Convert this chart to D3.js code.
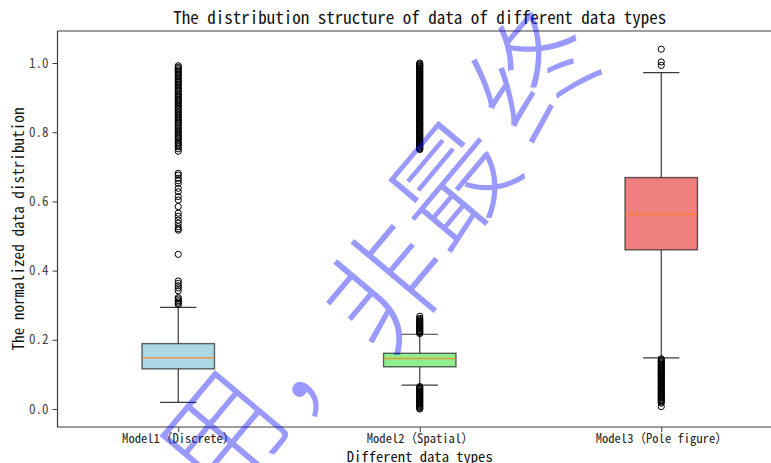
<!DOCTYPE html>
<html>
<head>
<meta charset="utf-8">
<script src="https://cdn.jsdelivr.net/npm/d3@7"></script>
<style>
  html, body { margin: 0; padding: 0; background: #fff; }
  svg { display: block; }
  text { font-family: "Noto Sans Mono CJK SC", "Noto Sans CJK SC", "DejaVu Sans Mono", monospace; }
</style>
</head>
<body>
<svg id="chart" width="771" height="463"></svg>
<script>
// ---- data -----------------------------------------------------------
const categories = ["Model1（Discrete）", "Model2（Spatial）", "Model3（Pole figure）"];
const q1          = [0.116, 0.122, 0.460];
const medians     = [0.148, 0.146, 0.563];
const q3          = [0.189, 0.161, 0.669];
const whiskerLow  = [0.019, 0.069, 0.148];
const whiskerHigh = [0.294, 0.216, 0.972];

const outliersModel1 = [
  0.302, 0.305, 0.309, 0.313, 0.318, 0.322, 0.342, 0.350, 0.356, 0.363, 0.370, 0.447,
  0.517, 0.521, 0.527, 0.537, 0.546, 0.557, 0.566, 0.585, 0.604, 0.614, 0.628, 0.638,
  0.652, 0.660, 0.667, 0.676, 0.681,
  0.745, 0.752, 0.758, 0.763, 0.768, 0.771, 0.776, 0.781, 0.785, 0.789, 0.794, 0.798,
  0.803, 0.807, 0.812, 0.816, 0.821, 0.826, 0.829, 0.834, 0.838, 0.843, 0.847, 0.851,
  0.856, 0.860, 0.865, 0.869, 0.873, 0.878, 0.882, 0.887, 0.891, 0.895, 0.899, 0.904,
  0.908, 0.912, 0.917, 0.921, 0.925, 0.930, 0.934, 0.939, 0.943, 0.947, 0.951, 0.955,
  0.960, 0.964, 0.968, 0.972, 0.976, 0.980, 0.984, 0.988, 0.992
];
const outliersModel2 = [
  0.000, 0.002, 0.005, 0.007, 0.010, 0.012, 0.015, 0.017, 0.020, 0.022, 0.025, 0.027,
  0.030, 0.032, 0.035, 0.037, 0.040, 0.042, 0.045, 0.047, 0.050, 0.052, 0.055, 0.057,
  0.060, 0.062, 0.065,
  0.218, 0.221, 0.223, 0.226, 0.228, 0.231, 0.233, 0.236, 0.238, 0.241, 0.243, 0.246,
  0.248, 0.251, 0.253, 0.256, 0.259, 0.262, 0.268,
  0.750, 0.752, 0.755, 0.757, 0.760, 0.762, 0.765, 0.767, 0.770, 0.772, 0.775, 0.777,
  0.780, 0.782, 0.785, 0.787, 0.790, 0.792, 0.795, 0.797, 0.800, 0.802, 0.805, 0.807,
  0.810, 0.812, 0.815, 0.817, 0.820, 0.822, 0.825, 0.827, 0.830, 0.832, 0.835, 0.837,
  0.840, 0.842, 0.845, 0.847, 0.850, 0.852, 0.855, 0.857, 0.860, 0.862, 0.865, 0.867,
  0.870, 0.872, 0.875, 0.877, 0.880, 0.882, 0.885, 0.887, 0.890, 0.892, 0.895, 0.897,
  0.900, 0.902, 0.905, 0.907, 0.910, 0.912, 0.915, 0.917, 0.920, 0.922, 0.925, 0.927,
  0.930, 0.932, 0.935, 0.937, 0.940, 0.942, 0.945, 0.947, 0.950, 0.952, 0.955, 0.957,
  0.960, 0.962, 0.965, 0.967, 0.970, 0.972, 0.975, 0.977, 0.980, 0.982, 0.985, 0.987,
  0.990, 0.992, 0.995, 0.997, 1.000
];
const outliersModel3 = [
  0.007, 0.017, 0.020, 0.023, 0.026, 0.028, 0.031, 0.034, 0.037, 0.040, 0.043, 0.045,
  0.048, 0.051, 0.054, 0.057, 0.060, 0.062, 0.065, 0.068, 0.071, 0.074, 0.077, 0.079,
  0.082, 0.085, 0.088, 0.091, 0.094, 0.096, 0.099, 0.102, 0.105, 0.108, 0.111, 0.113,
  0.116, 0.119, 0.122, 0.125, 0.128, 0.130, 0.133, 0.136, 0.139, 0.142, 0.145,
  0.993, 1.003, 1.040
];
const outliers = [outliersModel1, outliersModel2, outliersModel3];

const yTicks = [0.0, 0.2, 0.4, 0.6, 0.8, 1.0];

const titleText  = "The distribution structure of data of different data types";
const xLabelText = "Different data types";
const yLabelText = "The normalized data distribution";
const stampChars = ["用", "，", "非", "最", "终"];

// ---- layout & style -------------------------------------------------
const boxFills = ["#add8e6", "#90ee90", "#f08080"];
const plot = { left: 57.5, right: 782, top: 31, bottom: 427 };
const boxWidth = 0.3;
const stampPos = [[216, 430], [302, 392], [380, 282], [446, 178], [528, 68]];

const svg = d3.select("#chart");

const x = d3.scaleLinear().domain([0.5, 3.5]).range([plot.left, plot.right]);
const y = d3.scaleLinear().domain([-0.052, 1.0925]).range([plot.bottom, plot.top]);

// axes
const axisColor = "#3c3c3c";
const yAxis = svg.append("g")
  .attr("transform", `translate(${plot.left},0)`)
  .call(d3.axisLeft(y).tickValues(yTicks).tickFormat(d3.format(".1f")).tickSizeOuter(0).tickSize(5).tickPadding(4));
const xAxis = svg.append("g")
  .attr("transform", `translate(0,${plot.bottom})`)
  .call(d3.axisBottom(x).tickValues([1, 2, 3]).tickFormat((d, i) => categories[i]).tickSizeOuter(0).tickSize(5).tickPadding(2));
[yAxis, xAxis].forEach(g => {
  g.select(".domain").remove();
  g.selectAll(".tick line").attr("stroke", axisColor);
  g.selectAll(".tick text").attr("fill", "#222").style("font-size", "12.6px")
   .style("font-family", '"Noto Sans Mono CJK SC", "DejaVu Sans Mono", monospace');
});
yAxis.selectAll(".tick text").attr("fill", "#444").style("font-size", "13px");

// spines (the right edge lies beyond the canvas)
svg.append("path")
  .attr("d", `M${plot.right},${plot.top}H${plot.left}V${plot.bottom}H${plot.right}`)
  .attr("fill", "none").attr("stroke", axisColor).attr("stroke-width", 1.2);

// boxes
const groups = svg.append("g").selectAll("g").data(categories).join("g");
groups.each(function(c, i) {
  const g = d3.select(this);
  const cx = x(i + 1);
  const hw = x(1 + boxWidth / 2) - x(1);
  const cw = hw / 2;
  // whiskers
  g.append("line").attr("x1", cx).attr("x2", cx).attr("y1", y(q1[i])).attr("y2", y(whiskerLow[i]))
    .attr("stroke", "#3a3a3a").attr("stroke-width", 1.2);
  g.append("line").attr("x1", cx).attr("x2", cx).attr("y1", y(q3[i])).attr("y2", y(whiskerHigh[i]))
    .attr("stroke", "#3a3a3a").attr("stroke-width", 1.2);
  // caps
  [whiskerLow[i], whiskerHigh[i]].forEach(v => {
    g.append("line").attr("x1", cx - cw).attr("x2", cx + cw).attr("y1", y(v)).attr("y2", y(v))
      .attr("stroke", "#3a3a3a").attr("stroke-width", 1.2);
  });
  // box
  g.append("rect").attr("x", cx - hw).attr("width", 2 * hw)
    .attr("y", y(q3[i])).attr("height", y(q1[i]) - y(q3[i]))
    .attr("fill", boxFills[i]).attr("stroke", "#000").attr("stroke-opacity", 0.6).attr("stroke-width", 1.4);
  // median
  g.append("line").attr("x1", cx - hw).attr("x2", cx + hw).attr("y1", y(medians[i])).attr("y2", y(medians[i]))
    .attr("stroke", "#ff7f0e").attr("stroke-opacity", 0.7).attr("stroke-width", 1.6);
  // fliers
  g.append("g").selectAll("circle").data(outliers[i]).join("circle")
    .attr("cx", cx).attr("cy", d => y(d)).attr("r", 3.1)
    .attr("fill", "none").attr("stroke", "#000").attr("stroke-width", 1);
});

// title and axis labels
svg.append("text").attr("x", (plot.left + plot.right) / 2).attr("y", 24)
  .attr("text-anchor", "middle").style("font-size", "17px").attr("fill", "#111").text(titleText);
svg.append("text").attr("x", (plot.left + plot.right) / 2).attr("y", 462)
  .attr("text-anchor", "middle").style("font-size", "14.6px").attr("fill", "#111").text(xLabelText);
svg.append("text").attr("transform", `translate(24,${(plot.top + plot.bottom) / 2}) rotate(-90)`)
  .attr("text-anchor", "middle").style("font-size", "15.2px").attr("fill", "#111").text(yLabelText);

// translucent stamp across the plot
svg.append("g").selectAll("text").data(stampChars).join("text")
  .attr("transform", (d, i) => `translate(${stampPos[i][0]},${stampPos[i][1]}) rotate(-50)`)
  .attr("text-anchor", "middle").attr("dominant-baseline", "central")
  .style("font-family", '"Noto Sans CJK TC", "Noto Sans CJK SC", sans-serif')
  .style("font-size", "120px").style("font-weight", 200)
  .attr("fill", "#0000ff").attr("fill-opacity", 0.4)
  .text(d => d);
</script>
</body>
</html>
